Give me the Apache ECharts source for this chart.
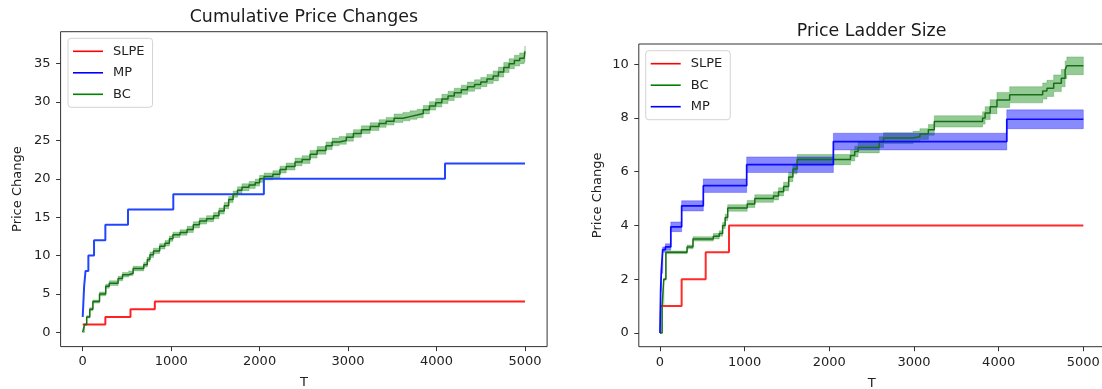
<!DOCTYPE html>
<html>
<head>
<meta charset="utf-8">
<title>Price Changes</title>
<script src="https://cdn.jsdelivr.net/npm/echarts@6/dist/echarts.min.js"></script>
<style>
  html, body { margin: 0; padding: 0; background: #fff; }
  #chart { width: 1102px; height: 389px; }
</style>
</head>
<body>
<div id="chart"></div>
<script>
const FONT = "DejaVu Sans";

// tick labels
const tTicks = [0, 1000, 2000, 3000, 4000, 5000];
const cumTicks = [0, 5, 10, 15, 20, 25, 30, 35];
const ladderTicks = [0, 2, 4, 6, 8, 10];

// left: cumulative price changes  [T, value]  /  [T, mean, half band]
const cumSLPE = [[0, 1], [256, 2], [540, 3], [815, 4], [5000, 4]];
const cumMP = [[0, 2], [8, 4], [16, 6], [32, 8], [64, 10], [128, 12], [256, 14], [512, 16],
  [1024, 18], [2048, 20], [4096, 22], [5000, 22]];
const cumBC = [
  [0, 0, 0], [20, 1, 0.1], [45, 2, 0.15], [80, 3, 0.2], [115, 4, 0.2], [190, 5, 0.25],
  [260, 6, 0.25], [300, 6.4, 0.3], [400, 7.0, 0.3], [450, 7.5, 0.3], [520, 7.7, 0.3],
  [570, 8.3, 0.3], [690, 8.8, 0.3], [730, 9.5, 0.3], [760, 10.1, 0.35], [800, 10.6, 0.35],
  [870, 11.2, 0.35], [930, 11.6, 0.35], [980, 12.2, 0.35], [1020, 12.7, 0.35], [1100, 13.0, 0.35],
  [1180, 13.4, 0.4], [1250, 14.0, 0.4], [1320, 14.5, 0.4], [1400, 14.8, 0.4], [1480, 15.2, 0.4],
  [1540, 15.8, 0.4], [1600, 16.5, 0.4], [1650, 17.3, 0.4], [1700, 18.0, 0.4], [1750, 18.5, 0.45],
  [1800, 18.9, 0.45], [1880, 19.2, 0.45], [1950, 19.5, 0.45], [2000, 20.0, 0.45], [2050, 20.3, 0.45],
  [2150, 20.6, 0.45], [2230, 21.2, 0.45], [2300, 21.6, 0.45], [2400, 22.2, 0.5], [2480, 22.5, 0.5],
  [2570, 23.2, 0.5], [2650, 23.7, 0.5], [2750, 24.3, 0.5], [2820, 24.8, 0.5], [2900, 25.0, 0.5],
  [2980, 25.4, 0.5], [3060, 25.9, 0.5], [3150, 26.4, 0.5], [3250, 26.8, 0.5], [3350, 27.2, 0.5],
  [3430, 27.5, 0.5], [3520, 27.9, 0.55], [3620, 28.1, 0.55], [3700, 28.3, 0.55], [3780, 28.5, 0.55],
  [3850, 29.0, 0.55], [3920, 29.5, 0.55], [3990, 29.9, 0.55], [4060, 30.4, 0.6], [4130, 30.8, 0.6],
  [4200, 31.2, 0.6], [4280, 31.6, 0.6], [4350, 32.0, 0.6], [4430, 32.3, 0.6], [4500, 32.6, 0.6],
  [4570, 33.0, 0.6], [4640, 33.4, 0.65], [4700, 33.9, 0.65], [4760, 34.5, 0.65], [4820, 35.0, 0.65],
  [4880, 35.4, 0.7], [4940, 35.7, 0.7], [4990, 35.9, 0.7], [5000, 36.6, 0.7]
];

// right: price ladder size
const ladSLPE = [[0, 1], [256, 2], [540, 3], [815, 4], [5000, 4]];
const ladBC = [
  [0, 0, 0], [25, 1, 0.02], [45, 2, 0.04], [70, 3, 0.05], [320, 3.2, 0.07], [390, 3.5, 0.08],
  [630, 3.6, 0.1], [700, 3.7, 0.1], [740, 4.0, 0.11], [770, 4.3, 0.12], [800, 4.65, 0.12],
  [1030, 4.8, 0.13], [1120, 5.0, 0.14], [1340, 5.1, 0.15], [1400, 5.25, 0.15], [1460, 5.45, 0.16],
  [1520, 5.8, 0.17], [1570, 6.1, 0.18], [1620, 6.45, 0.19], [2250, 6.6, 0.2], [2300, 6.75, 0.2],
  [2340, 6.9, 0.2], [2590, 7.1, 0.2], [2640, 7.25, 0.2], [2990, 7.3, 0.2], [3070, 7.4, 0.2],
  [3170, 7.56, 0.2], [3240, 7.87, 0.21], [3810, 8.0, 0.23], [3840, 8.18, 0.24], [3900, 8.42, 0.26],
  [3980, 8.67, 0.28], [4130, 8.86, 0.3], [4520, 9.0, 0.3], [4570, 9.1, 0.3], [4650, 9.29, 0.31],
  [4740, 9.48, 0.32], [4785, 9.79, 0.33], [4805, 9.94, 0.33], [5000, 9.94, 0.33]
];
const ladMP = [
  [0, 0, 0], [4, 0.8, 0.04], [8, 1.6, 0.06], [16, 2.3, 0.08], [32, 3.1, 0.1], [64, 3.2, 0.12],
  [128, 3.95, 0.18], [256, 4.73, 0.19], [512, 5.48, 0.25], [1024, 6.26, 0.29], [2048, 7.12, 0.31],
  [4096, 7.95, 0.35], [5000, 7.95, 0.35]
];

const chart = echarts.init(document.getElementById("chart"), null, { renderer: "canvas" });

const textBase = { fontFamily: FONT, color: "#222" };
const plainNum = v => String(v);

function xAxis(gridIndex) {
  return {
    type: "value", gridIndex, min: -250, max: 5250,
    name: "T", nameLocation: "middle", nameGap: 30,
    nameTextStyle: { ...textBase, fontSize: 13 },
    axisLine: { show: false, onZero: false },
    axisTick: { show: true, length: 4.5, customValues: tTicks, lineStyle: { color: "#333", width: 1 } },
    axisLabel: { customValues: tTicks, formatter: plainNum, margin: 9, fontSize: 13, ...textBase },
    splitLine: { show: false }
  };
}

function yAxis(gridIndex, min, max, ticks, gap) {
  return {
    type: "value", gridIndex, min, max,
    name: "Price Change", nameLocation: "middle", nameGap: gap,
    nameTextStyle: { ...textBase, fontSize: 13 },
    axisLine: { show: false, onZero: false },
    axisTick: { show: true, length: 4.5, customValues: ticks, lineStyle: { color: "#333", width: 1 } },
    axisLabel: { customValues: ticks, formatter: plainNum, margin: 10, fontSize: 13, ...textBase },
    splitLine: { show: false }
  };
}

function line(name, data, gi, color, width) {
  return {
    name, type: "line", xAxisIndex: gi, yAxisIndex: gi, data, step: "end",
    symbol: "none", showSymbol: false, color,
    lineStyle: { color, width: width || 2 }, silent: true
  };
}

// mean +/- spread band drawn as one stepped polygon through the axis scales
function band(rows, gi, fill) {
  return {
    type: "custom", xAxisIndex: gi, yAxisIndex: gi, silent: true,
    data: [[rows[0][0], rows[0][1]]],
    renderItem(params, api) {
      const upper = [], lower = [];
      rows.forEach((r, i) => {
        const tNext = i + 1 < rows.length ? rows[i + 1][0] : r[0];
        upper.push(api.coord([r[0], r[1] + r[2]]), api.coord([tNext, r[1] + r[2]]));
        lower.push(api.coord([r[0], r[1] - r[2]]), api.coord([tNext, r[1] - r[2]]));
      });
      return {
        type: "polygon",
        shape: { points: upper.concat(lower.reverse()) },
        style: { fill, stroke: fill, lineWidth: 0.6 }
      };
    }
  };
}

function legend(left, top, names) {
  const colors = { SLPE: "#ff0000", MP: "#0000ff", BC: "#008000" };
  return {
    orient: "vertical", left, top, padding: [5, 8, 5, 5],
    itemWidth: 30, itemHeight: 1.6, itemGap: 5.5, icon: "rect",
    borderColor: "#d3d3d3", borderWidth: 1, borderRadius: 3,
    backgroundColor: "rgba(255,255,255,0.85)", selectedMode: false,
    textStyle: { ...textBase, fontSize: 13, lineHeight: 16, padding: [0, 0, 0, 5] },
    data: names.map(n => ({ name: n, itemStyle: { color: colors[n] } }))
  };
}

const titleStyle = { ...textBase, fontSize: 17.4, fontWeight: "normal", color: "#1a1a1a" };

chart.setOption({
  animation: false,
  backgroundColor: "#fff",
  title: [
    { text: "Cumulative Price Changes", left: 303.9, top: 8.5, textAlign: "center", padding: 0, textStyle: titleStyle },
    { text: "Price Ladder Size", left: 871.6, top: 23, textAlign: "center", padding: 0, textStyle: titleStyle }
  ],
  legend: [
    legend(68, 38.3, ["SLPE", "MP", "BC"]),
    legend(645.7, 50.7, ["SLPE", "BC", "MP"])
  ],
  grid: [
    { left: 60.6, right: 554.9, top: 31.7, bottom: 42.4, outerBoundsMode: "none",
      show: true, borderColor: "#333", borderWidth: 1 },
    { left: 638.8, right: -2.5, top: 44, bottom: 42.3, outerBoundsMode: "none",
      show: true, borderColor: "#333", borderWidth: 1 }
  ],
  xAxis: [xAxis(0), xAxis(1)],
  yAxis: [
    yAxis(0, -1.865, 39.165, cumTicks, 36.5),
    yAxis(1, -0.51, 10.75, ladderTicks, 34.5)
  ],
  series: [
    line("SLPE", cumSLPE, 0, "#ff2020"),
    line("MP", cumMP, 0, "#2045ff"),
    band(cumBC, 0, "rgba(0,128,0,0.42)"),
    line("BC", cumBC.map(r => [r[0], r[1]]), 0, "#1a6e1a", 1.5),

    line("SLPE", ladSLPE, 1, "#ff2a2a"),
    band(ladBC, 1, "rgba(0,128,0,0.42)"),
    line("BC", ladBC.map(r => [r[0], r[1]]), 1, "#1a6e1a", 1.5),
    band(ladMP, 1, "rgba(0,0,255,0.46)"),
    line("MP", ladMP.map(r => [r[0], r[1]]), 1, "#0a0aff", 1.7)
  ]
});

window.addEventListener("resize", () => chart.resize());
</script>
</body>
</html>
